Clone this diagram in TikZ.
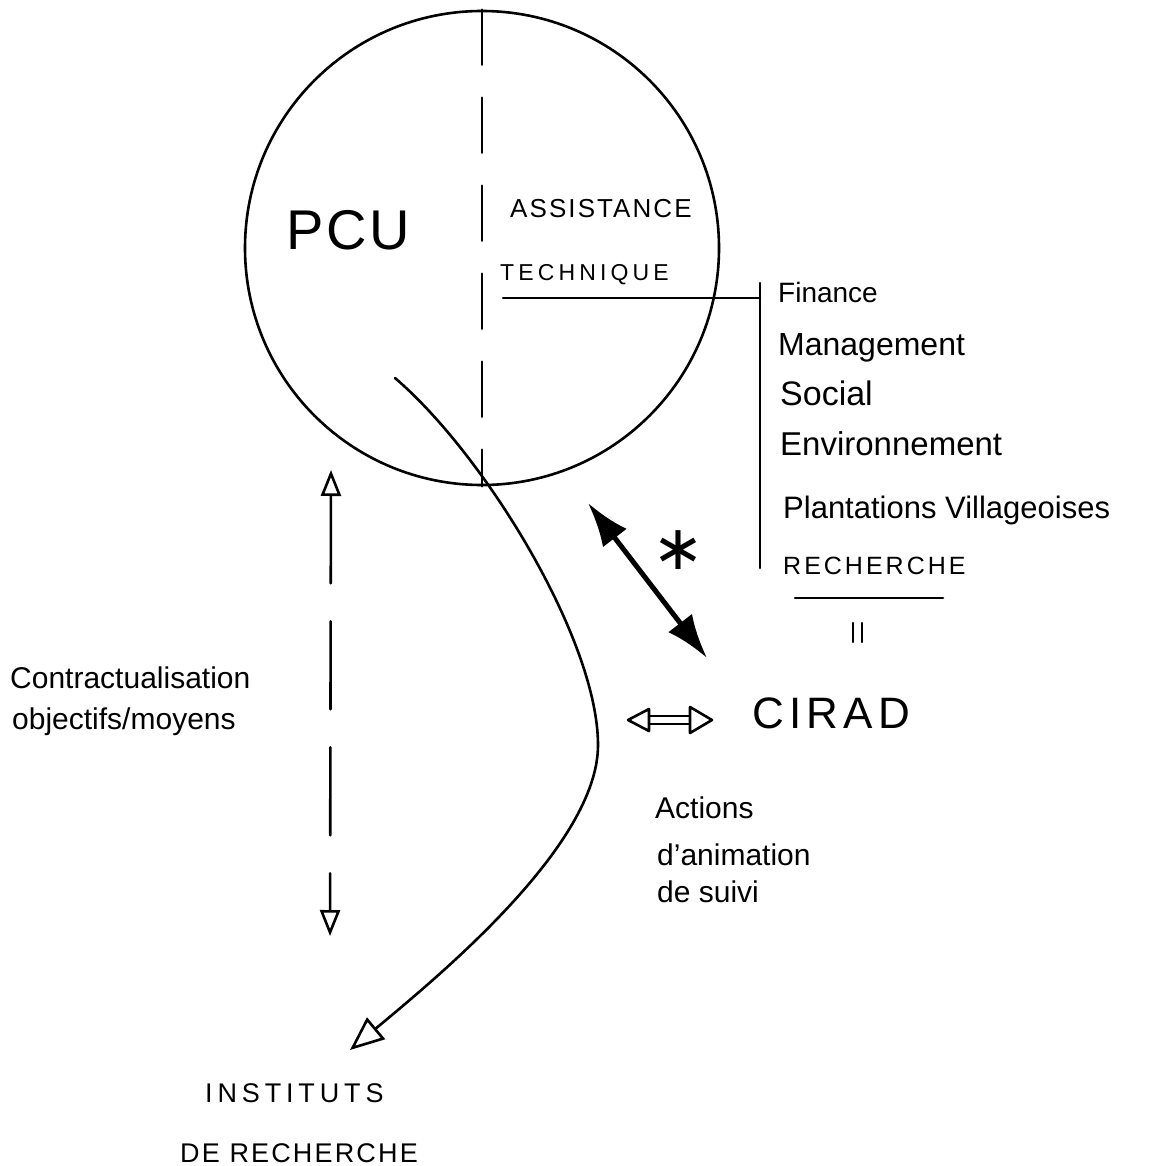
\documentclass[tikz,border=0pt]{standalone}
\usepackage{fontspec}
\setmainfont{Liberation Sans}
\newfontfamily\djv{DejaVu Sans}
\usetikzlibrary{arrows.meta}
\begin{document}
\begin{tikzpicture}[x=1pt,y=-1pt,
  pen/.style={line width=2.6pt, line cap=round, line join=round},
  lbl/.style={anchor=base west, inner sep=0pt, font=\fontsize{30}{36}\selectfont},
  caps/.style={anchor=base west, inner sep=0pt, font=\fontsize{26}{30}\selectfont\addfontfeature{LetterSpace=8}}]
\useasboundingbox (0,0) rectangle (1154,1166);
\fill[white] (0,0) rectangle (1154,1166);

% circle
\node[circle, draw, line width=2.6pt, minimum size=474pt, inner sep=0pt] (circ) at (482,248) {};
\draw[pen, dash pattern=on 55pt off 33pt] (circ.north) -- (circ.south);

% labels inside circle
\node[anchor=base west, inner sep=0pt, font=\fontsize{56}{60}\selectfont\addfontfeature{LetterSpace=5}] (pcu) at (286,250) {PCU};
\node[caps] (assist) at (510,218) {ASSISTANCE};
\node[caps, font=\fontsize{23}{28}\selectfont\addfontfeature{LetterSpace=18}] (tech) at (500,280) {TECHNIQUE};

% bracket
\coordinate (hl) at (503,298);
\coordinate (hr) at (760,298);
\coordinate (vt) at (760,283);
\coordinate (vb) at (760,568);
\draw[pen] (hl) -- (hr);
\draw[pen] (vt) -- (vb);

% list
\node[lbl, font=\fontsize{28}{34}\selectfont] (fin) at (778,302) {Finance};
\node[lbl, font=\fontsize{32}{36}\selectfont] (man) at (778,355) {Management};
\node[lbl, font=\fontsize{34}{38}\selectfont] (soc) at (780,405) {Social};
\node[lbl, font=\fontsize{33}{38}\selectfont] (env) at (780,455) {Environnement};
\node[lbl, font=\fontsize{31}{36}\selectfont] (pla) at (783,518) {Plantations Villageoises};
\node[caps, font=\fontsize{25}{30}\selectfont\addfontfeature{LetterSpace=12}] (rech) at (783,574) {RECHERCHE};
\coordinate (ul) at (795,598);
\coordinate (ur) at (943,598);
\draw[pen] (ul) -- (ur);
\coordinate (e1t) at (853,623); \coordinate (e1b) at (853,642);
\coordinate (e2t) at (862,623); \coordinate (e2b) at (862,642);
\draw[pen] (e1t) -- (e1b);
\draw[pen] (e2t) -- (e2b);

% CIRAD
\node[anchor=base west, inner sep=0pt, font=\fontsize{44}{50}\selectfont\addfontfeature{LetterSpace=12}] (cirad) at (752,728) {CIRAD};

% thick double arrow
\coordinate (ta) at (588,503);
\coordinate (tb) at (707,658);
\draw[line width=5pt, {Latex[length=44pt, width=30pt]}-{Latex[length=44pt, width=30pt]}] (ta) -- (tb);
\node[font=\djv\fontsize{62}{62}\selectfont, inner sep=0pt] (ast) at (678,550) {∗};

% open double arrow to CIRAD
\draw[pen] (647,716) -- (692,716);
\draw[pen] (647,724) -- (692,724);
\draw[pen, fill=white] (628,720) -- (649,709) -- (649,731) -- cycle;
\draw[pen, fill=white] (712,720) -- (690,707) -- (690,733) -- cycle;

% dashed vertical arrow
\coordinate (da) at (331,470);
\coordinate (db) at (330,936);
\draw[pen, dash pattern=on 88pt off 38pt, {Triangle[open, length=26pt, width=20pt]}-{Triangle[open, length=26pt, width=20pt]}] (da) -- (db);
\node[lbl] (contr) at (10,688) {Contractualisation};
\node[lbl] (obj) at (12,729) {objectifs/moyens};

% curve
\coordinate (cs) at (395,378);
\coordinate (ce) at (350,1050);
\draw[pen, -{Triangle[open, length=34pt, width=28pt]}] (cs) .. controls (485,455) and (598,640) .. (598,745)
   .. controls (598,845) and (440,975) .. (ce);

% actions
\node[lbl] (act) at (655,818) {Actions};
\node[lbl] (anim) at (657,865) {d'animation};
\node[lbl] (suivi) at (657,902) {de suivi};

% institutes
\node[caps, font=\fontsize{27}{30}\selectfont\addfontfeature{LetterSpace=18}] (inst) at (205,1102) {INSTITUTS};
\node[caps, font=\fontsize{27}{30}\selectfont\addfontfeature{LetterSpace=8}] (derech) at (180,1162) {DE RECHERCHE};
\end{tikzpicture}
\end{document}
